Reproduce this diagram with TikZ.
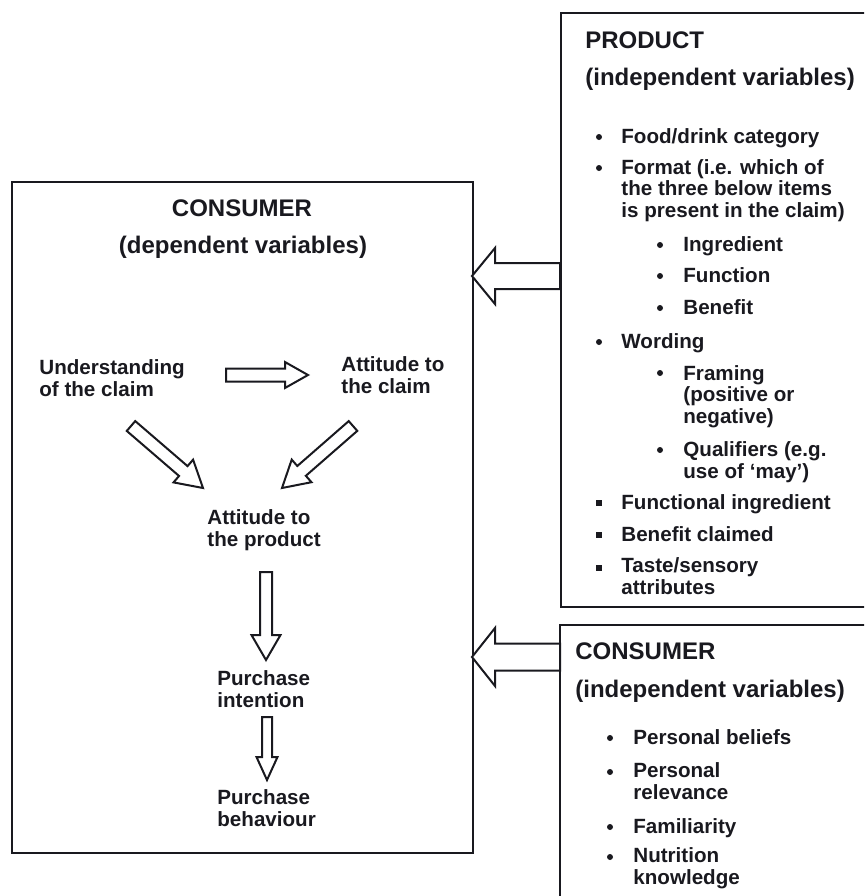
\documentclass[tikz,border=0pt]{standalone}
\usepackage{fontspec}
\setmainfont{Liberation Sans}
\usetikzlibrary{calc}

\definecolor{ink}{rgb}{0.1,0.1,0.12}

% block arrow: tail, tip, shaft half width, head length, head half width
\newcommand{\fatarrow}[5]{%
  \coordinate (hb) at ($(#2)!#4!(#1)$);
  \draw[fat] ($(#1)!#3!90:(#2)$) -- ($(hb)!#3!90:(#2)$) -- ($(hb)!#5!90:(#2)$) -- (#2)
    -- ($(hb)!#5!-90:(#2)$) -- ($(hb)!#3!-90:(#2)$) -- ($(#1)!#3!-90:(#2)$) -- cycle;
}

\begin{document}
\begin{tikzpicture}[
  x=0.5pt, y=-0.5pt,
  box/.style={draw=ink, line width=1.2pt, inner sep=0pt},
  head/.style={font=\fontsize{12}{14}\selectfont\bfseries, text=ink, inner sep=0pt, anchor=base west},
  txt/.style={font=\fontsize{10.3}{10.75}\selectfont\bfseries, text=ink, align=left, inner sep=0pt, anchor=base west},
  dot/.style={circle, fill=ink, inner sep=0pt, minimum size=3pt},
  sqdot/.style={rectangle, fill=ink, inner sep=0pt, minimum size=2.7pt},
  fat/.style={draw=ink, line width=1pt, fill=white, line join=miter}
]
\useasboundingbox (0,0) rectangle (864,896);
\clip (0,0) rectangle (864,896);

% ---------- The three boxes ----------
\node[box, minimum width=230.5pt, minimum height=335.5pt] (dep) at (242.5,517.5) {};
\node[box, minimum width=169.5pt, minimum height=297pt] (prod) at (730.5,310) {};
\node[box, minimum width=170pt, minimum height=157.5pt] (cons) at (730,782.5) {};

% ---------- Consumer (dependent variables) ----------
% (multi-line texts sit on the baseline of their last line)
\node[head, anchor=base] (dephd) at (242,216) {CONSUMER};
\node[head, anchor=base] (depsub) at (243,253) {(dependent variables)};

\node[txt] (under) at (39,396) {Understanding\\of the claim};
\node[txt] (attclaim) at (341,393) {Attitude to\\the claim};
\node[txt] (attprod) at (207,546) {Attitude to\\the product};
\node[txt] (intent) at (217,707) {Purchase\\intention};
\node[txt] (behav) at (217,826) {Purchase\\behaviour};

% arrows inside the box
\coordinate (un-tail) at (226,375);
\coordinate (un-tip) at (308,375);
\fatarrow{un-tail}{un-tip}{3.25pt}{11.5pt}{6.5pt}
\coordinate (ul-tail) at (131,426);
\coordinate (ul-tip) at (203,488);
\fatarrow{ul-tail}{ul-tip}{3.25pt}{13pt}{7.5pt}
\coordinate (ur-tail) at (353,426);
\coordinate (ur-tip) at (282,488);
\fatarrow{ur-tail}{ur-tip}{3.25pt}{13pt}{7.5pt}
\coordinate (pi-tail) at (266,572);
\coordinate (pi-tip) at (266,660);
\fatarrow{pi-tail}{pi-tip}{3pt}{12.5pt}{7.25pt}
\coordinate (pb-tail) at (267,717);
\coordinate (pb-tip) at (267,780);
\fatarrow{pb-tail}{pb-tip}{2.5pt}{11.5pt}{5.25pt}

% ---------- Product (independent variables) ----------
\node[head] (prodhd) at (585,48) {PRODUCT};
\node[head] (prodsub) at (585,85) {(independent variables)};

\node[dot] at (599,137) {};
\node[txt] (food) at (621,143) {Food/drink category};
\node[dot] at (599,168) {};
\node[txt] (format) at (621,217) {Format (i.e. which of\\the three below items\\is present in the claim)};
\node[dot] at (660,245) {};
\node[txt] (ingr) at (683,251) {Ingredient};
\node[dot] at (660,276) {};
\node[txt] (func) at (683,282) {Function};
\node[dot] at (660,308) {};
\node[txt] (bene) at (683,314) {Benefit};
\node[dot] at (599,342) {};
\node[txt] (word) at (621,348) {Wording};
\node[dot] at (660,373) {};
\node[txt] (fram) at (683,423) {Framing\\(positive or\\negative)};
\node[dot] at (660,450) {};
\node[txt] (qual) at (683,478) {Qualifiers (e.g.\\use of ‘may’)};
\node[sqdot] at (599,503) {};
\node[txt] (fing) at (621,509) {Functional ingredient};
\node[sqdot] at (599,535) {};
\node[txt] (bcl) at (621,541) {Benefit claimed};
\node[sqdot] at (599,568) {};
\node[txt] (taste) at (621,594) {Taste/sensory\\attributes};

% ---------- Consumer (independent variables) ----------
\node[head] (conhd) at (575,659) {CONSUMER};
\node[head] (consub) at (575,697) {(independent variables)};

\node[dot] at (610,738) {};
\node[txt] (belief) at (633,744) {Personal beliefs};
\node[dot] at (610,772) {};
\node[txt] (relev) at (633,799) {Personal\\relevance};
\node[dot] at (610,827) {};
\node[txt] (famil) at (633,833) {Familiarity};
\node[dot] at (610,857) {};
\node[txt] (nutr) at (633,884) {Nutrition\\knowledge};

% ---------- Arrows into the dependent box ----------
\coordinate (pa-tail) at (560,276);
\coordinate (pa-tip) at (472,276);
\fatarrow{pa-tail}{pa-tip}{6.5pt}{11.5pt}{14pt}
\coordinate (ca-tail) at (560,657);
\coordinate (ca-tip) at (472,657);
\fatarrow{ca-tail}{ca-tip}{6.75pt}{11.5pt}{14.5pt}

\end{tikzpicture}
\end{document}
